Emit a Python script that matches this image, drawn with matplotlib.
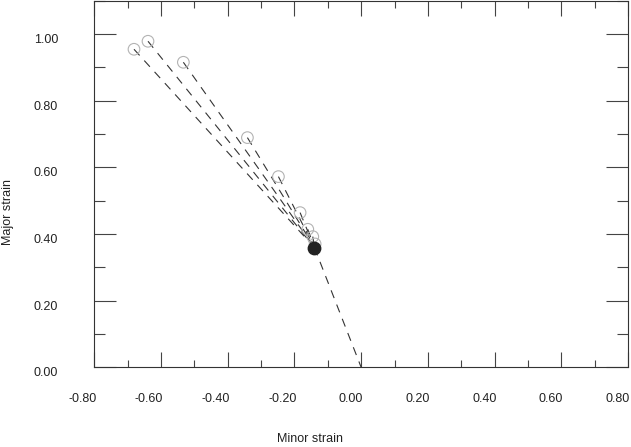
import matplotlib
matplotlib.use("Agg")
import matplotlib.pyplot as plt
import matplotlib.transforms as mtransforms
from matplotlib.ticker import MultipleLocator

# strain states (open circles)
minor_strain = [-0.681, -0.639, -0.533, -0.341, -0.248, -0.183, -0.160, -0.145, -0.138]
major_strain = [0.954, 0.978, 0.915, 0.689, 0.572, 0.464, 0.414, 0.392, 0.370]

# common point where the paths meet (filled circle) and the start of the path
neck_minor, neck_major = -0.140, 0.359
start_minor, start_major = 0.0, 0.0

x_ticks = [-0.8, -0.6, -0.4, -0.2, 0.0, 0.2, 0.4, 0.6, 0.8]
x_tick_labels = ["-0.80", "-0.60", "-0.40", "-0.20", "0.00", "0.20", "0.40", "0.60", "0.80"]
y_ticks = [0.0, 0.2, 0.4, 0.6, 0.8, 1.0]
y_tick_labels = ["0.00", "0.20", "0.40", "0.60", "0.80", "1.00"]

plt.rcParams["font.family"] = ["Liberation Sans", "DejaVu Sans"]
plt.rcParams["lines.scale_dashes"] = False

W, H = 631, 447
fig = plt.figure(figsize=(W / 100, H / 100), dpi=100)
ax = fig.add_axes([94.3 / W, 79.7 / H, (628 - 94.3) / W, 366.7 / H])

line_kw = dict(color="#333333", lw=0.8, dashes=(6, 5))
for mx, my in zip(minor_strain, major_strain):
    ax.plot([mx, neck_minor], [my, neck_major], **line_kw)
ax.plot([neck_minor, start_minor], [neck_major, start_major], **line_kw)

ax.scatter(minor_strain, major_strain, s=70, facecolors="none",
           edgecolors="#b3b3b3", linewidths=0.8, zorder=3)
ax.scatter([neck_minor], [neck_major], s=80, color="#222222", zorder=4)

ax.set_xlim(-0.8, 0.8)
ax.set_ylim(0, 1.1)
ax.xaxis.set_major_locator(MultipleLocator(0.2))
ax.xaxis.set_minor_locator(MultipleLocator(0.1))
ax.yaxis.set_major_locator(MultipleLocator(0.2))
ax.yaxis.set_minor_locator(MultipleLocator(0.1))

ax.tick_params(axis="both", which="both", direction="in", width=0.8, color="#444444",
               top=True, bottom=True, left=True, right=True,
               labelbottom=False, labelleft=False)
ax.tick_params(axis="x", which="major", length=10.8)
ax.tick_params(axis="x", which="minor", length=5)
ax.tick_params(axis="y", which="major", length=15.8)
ax.tick_params(axis="y", which="minor", length=7.9)

for sp in ax.spines.values():
    sp.set_color("#333333")
    sp.set_linewidth(0.8)

# tick labels sit a little off their ticks in the reference
text_kw = dict(fontsize=9, color="#222222", ha="right", va="baseline")
x_off = mtransforms.ScaledTranslation(2 / 100, -34.2 / 100, fig.dpi_scale_trans)
x_trans = mtransforms.blended_transform_factory(ax.transData, ax.transAxes) + x_off
for v, lab in zip(x_ticks, x_tick_labels):
    ax.text(v, 0, lab, transform=x_trans, **text_kw)

y_off = mtransforms.ScaledTranslation(-36.3 / 100, -8.9 / 100, fig.dpi_scale_trans)
y_trans = mtransforms.blended_transform_factory(ax.transAxes, ax.transData) + y_off
for v, lab in zip(y_ticks, y_tick_labels):
    ax.text(0, v, lab, transform=y_trans, **text_kw)

fig.text(310 / W, 1 - 439.3 / H, "Minor strain", fontsize=9, color="#222222",
         ha="center", va="center")
fig.text(8 / W, 1 - 212 / H, "Major strain", fontsize=9, color="#222222",
         ha="center", va="center", rotation=90)

fig.savefig("out.png", dpi=100)
